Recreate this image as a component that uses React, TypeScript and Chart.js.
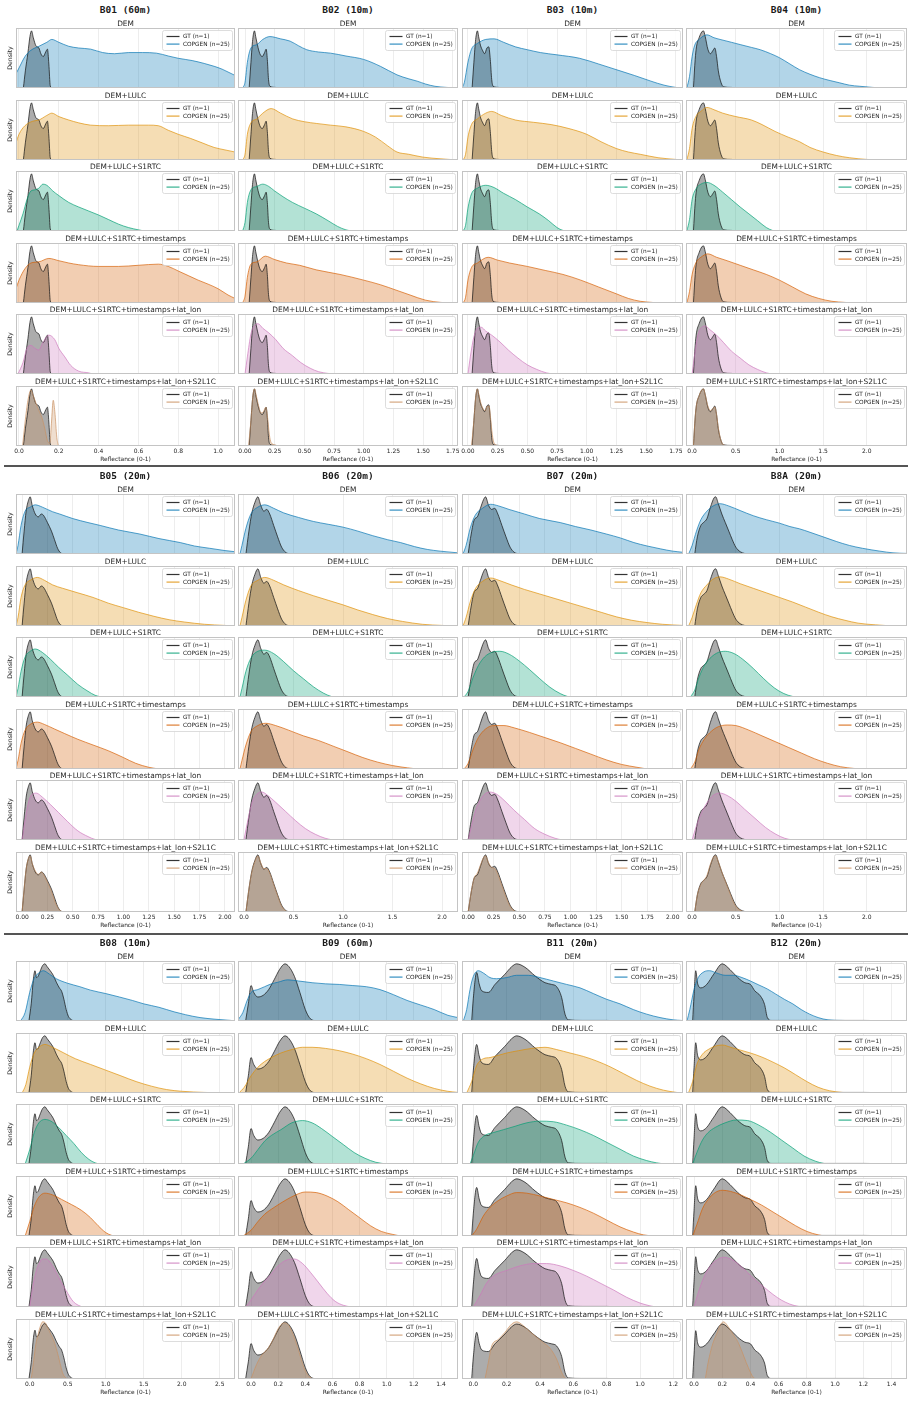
import React, { useEffect, useRef } from "react";
import { Chart, registerables } from "chart.js";

Chart.register(...registerables);

type Pt = [number, number];

// ---------------- data ----------------
const BANDS = ["B01 (60m)", "B02 (10m)", "B03 (10m)", "B04 (10m)", "B05 (20m)", "B06 (20m)", "B07 (20m)", "B8A (20m)", "B08 (10m)", "B09 (60m)", "B11 (20m)", "B12 (20m)"];
const CONDITIONS = ["DEM", "DEM+LULC", "DEM+LULC+S1RTC", "DEM+LULC+S1RTC+timestamps", "DEM+LULC+S1RTC+timestamps+lat_lon", "DEM+LULC+S1RTC+timestamps+lat_lon+S2L1C"];
const SERIES_LABELS = ["GT (n=1)", "COPGEN (n=25)"];
const Y_LABEL = "Density";
const X_LABEL = "Reflectance (0-1)";

const X_MIN = [-0.015, -0.059, -0.05, -0.07, -0.06, -0.06, -0.06, -0.07, -0.18, -0.096, -0.068, -0.057];
const X_MAX = [1.085, 1.794, 1.81, 2.46, 2.1, 2.16, 2.1, 2.46, 2.7, 1.525, 1.258, 1.51];
const X_TICKS = [
  [0, 0.2, 0.4, 0.6, 0.8, 1.0],
  [0, 0.25, 0.5, 0.75, 1.0, 1.25, 1.5, 1.75],
  [0, 0.25, 0.5, 0.75, 1.0, 1.25, 1.5, 1.75],
  [0, 0.5, 1.0, 1.5, 2.0],
  [0, 0.25, 0.5, 0.75, 1.0, 1.25, 1.5, 1.75, 2.0],
  [0, 0.5, 1.0, 1.5, 2.0],
  [0, 0.25, 0.5, 0.75, 1.0, 1.25, 1.5, 1.75, 2.0],
  [0, 0.5, 1.0, 1.5, 2.0],
  [0, 0.5, 1.0, 1.5, 2.0, 2.5],
  [0, 0.2, 0.4, 0.6, 0.8, 1.0, 1.2, 1.4],
  [0, 0.2, 0.4, 0.6, 0.8, 1.0, 1.2],
  [0, 0.2, 0.4, 0.6, 0.8, 1.0, 1.2, 1.4],
];
const TICK_DECIMALS = [1, 2, 2, 1, 2, 1, 2, 1, 1, 1, 1, 1];

const B01_GT: Pt[] = [[0.022, 0], [0.032, 0.3], [0.045, 0.62], [0.055, 0.9], [0.063, 1], [0.072, 0.88], [0.085, 0.74], [0.1, 0.7], [0.11, 0.6], [0.122, 0.55], [0.134, 0.63], [0.143, 0.68], [0.15, 0.42], [0.157, 0.04], [0.165, 0]];
const B01_COPGEN: Pt[][] = [
  [[-0.015, 0.25], [0, 0.35], [0.03, 0.55], [0.06, 0.66], [0.1, 0.73], [0.14, 0.8], [0.165, 0.85], [0.2, 0.8], [0.25, 0.73], [0.3, 0.7], [0.36, 0.68], [0.42, 0.62], [0.48, 0.6], [0.55, 0.62], [0.62, 0.62], [0.69, 0.61], [0.75, 0.56], [0.8, 0.52], [0.87, 0.48], [0.93, 0.43], [0.98, 0.38], [1.02, 0.33], [1.05, 0.28], [1.085, 0.22]],
  [[-0.015, 0.3], [0, 0.45], [0.03, 0.6], [0.07, 0.68], [0.1, 0.7], [0.14, 0.78], [0.165, 0.82], [0.2, 0.76], [0.25, 0.7], [0.3, 0.65], [0.36, 0.61], [0.45, 0.6], [0.55, 0.61], [0.65, 0.61], [0.7, 0.6], [0.75, 0.52], [0.8, 0.45], [0.86, 0.38], [0.92, 0.3], [0.98, 0.22], [1.03, 0.18], [1.085, 0.14]],
  [[-0.01, 0], [0, 0.1], [0.02, 0.3], [0.04, 0.55], [0.06, 0.7], [0.08, 0.72], [0.1, 0.75], [0.12, 0.82], [0.14, 0.8], [0.17, 0.7], [0.2, 0.62], [0.25, 0.5], [0.3, 0.42], [0.35, 0.35], [0.4, 0.28], [0.45, 0.2], [0.5, 0.12], [0.55, 0.06], [0.6, 0.02], [0.63, 0]],
  [[-0.015, 0.25], [0, 0.4], [0.03, 0.6], [0.06, 0.7], [0.1, 0.72], [0.15, 0.78], [0.2, 0.74], [0.25, 0.7], [0.3, 0.67], [0.4, 0.64], [0.5, 0.64], [0.6, 0.66], [0.7, 0.68], [0.75, 0.64], [0.8, 0.56], [0.85, 0.48], [0.9, 0.4], [0.95, 0.33], [1, 0.25], [1.05, 0.14], [1.085, 0.08]],
  [[-0.005, 0], [0.02, 0.2], [0.04, 0.45], [0.06, 0.5], [0.08, 0.45], [0.1, 0.42], [0.12, 0.55], [0.15, 0.68], [0.18, 0.6], [0.2, 0.45], [0.23, 0.3], [0.26, 0.15], [0.3, 0.05], [0.35, 0.02], [0.37, 0]],
  [[0.018, 0], [0.03, 0.4], [0.045, 0.8], [0.06, 0.98], [0.07, 0.9], [0.085, 0.75], [0.1, 0.62], [0.115, 0.5], [0.13, 0.3], [0.142, 0.1], [0.155, 0.05], [0.163, 0.4], [0.172, 0.8], [0.18, 0.6], [0.19, 0.15], [0.198, 0]],
];

const B02_GT: Pt[] = [[0.035, 0], [0.05, 0.45], [0.065, 0.85], [0.08, 1], [0.09, 0.9], [0.105, 0.75], [0.125, 0.6], [0.145, 0.55], [0.165, 0.62], [0.178, 0.68], [0.188, 0.5], [0.198, 0.15], [0.21, 0.03], [0.26, 0.01], [0.29, 0]];
const B02_COPGEN: Pt[][] = [
  [[-0.02, 0], [0, 0.1], [0.02, 0.45], [0.05, 0.7], [0.1, 0.76], [0.15, 0.85], [0.21, 0.9], [0.3, 0.86], [0.38, 0.82], [0.45, 0.74], [0.52, 0.67], [0.62, 0.63], [0.72, 0.61], [0.85, 0.56], [1, 0.5], [1.14, 0.38], [1.28, 0.23], [1.38, 0.16], [1.45, 0.12], [1.52, 0.07], [1.6, 0.03], [1.7, 0.01], [1.79, 0]],
  [[-0.02, 0], [0, 0.1], [0.02, 0.45], [0.05, 0.65], [0.1, 0.72], [0.15, 0.82], [0.22, 0.9], [0.3, 0.82], [0.4, 0.72], [0.5, 0.67], [0.6, 0.64], [0.72, 0.61], [0.85, 0.58], [1, 0.5], [1.1, 0.4], [1.2, 0.25], [1.28, 0.14], [1.38, 0.1], [1.5, 0.05], [1.65, 0.02], [1.79, 0]],
  [[-0.02, 0], [0, 0.15], [0.02, 0.5], [0.05, 0.72], [0.1, 0.78], [0.15, 0.82], [0.2, 0.78], [0.25, 0.7], [0.32, 0.6], [0.4, 0.5], [0.5, 0.4], [0.6, 0.3], [0.7, 0.18], [0.78, 0.08], [0.85, 0.02], [0.9, 0]],
  [[-0.02, 0], [0, 0.12], [0.02, 0.45], [0.05, 0.68], [0.1, 0.72], [0.17, 0.82], [0.25, 0.76], [0.35, 0.7], [0.46, 0.66], [0.6, 0.58], [0.8, 0.5], [1, 0.4], [1.14, 0.32], [1.28, 0.22], [1.39, 0.14], [1.52, 0.05], [1.65, 0.01], [1.79, 0]],
  [[0, 0], [0.02, 0.3], [0.05, 0.7], [0.08, 0.85], [0.11, 0.88], [0.15, 0.8], [0.2, 0.72], [0.26, 0.6], [0.32, 0.45], [0.4, 0.32], [0.47, 0.2], [0.55, 0.1], [0.62, 0.04], [0.7, 0.01], [0.75, 0]],
  [[0.03, 0], [0.05, 0.45], [0.065, 0.85], [0.08, 1], [0.095, 0.88], [0.115, 0.7], [0.135, 0.58], [0.155, 0.6], [0.175, 0.68], [0.19, 0.5], [0.205, 0.2], [0.22, 0.06], [0.25, 0.02], [0.28, 0]],
];

const B03_GT: Pt[] = [[0.035, 0], [0.05, 0.45], [0.065, 0.85], [0.08, 1], [0.09, 0.9], [0.105, 0.75], [0.125, 0.65], [0.14, 0.6], [0.16, 0.7], [0.175, 0.72], [0.188, 0.5], [0.2, 0.15], [0.212, 0.03], [0.26, 0.01], [0.29, 0]];
const B03_COPGEN: Pt[][] = [
  [[-0.05, 0], [-0.03, 0.1], [0, 0.45], [0.03, 0.68], [0.08, 0.78], [0.15, 0.85], [0.22, 0.86], [0.3, 0.8], [0.4, 0.72], [0.5, 0.67], [0.61, 0.62], [0.75, 0.58], [0.94, 0.52], [1.1, 0.42], [1.28, 0.3], [1.4, 0.22], [1.54, 0.12], [1.65, 0.05], [1.75, 0.01], [1.8, 0]],
  [[-0.04, 0], [-0.02, 0.1], [0, 0.4], [0.03, 0.62], [0.08, 0.72], [0.15, 0.82], [0.2, 0.85], [0.28, 0.78], [0.4, 0.7], [0.55, 0.66], [0.7, 0.62], [0.85, 0.55], [1, 0.45], [1.12, 0.32], [1.25, 0.2], [1.35, 0.14], [1.45, 0.1], [1.6, 0.04], [1.75, 0.01], [1.8, 0]],
  [[-0.04, 0], [-0.02, 0.1], [0, 0.4], [0.03, 0.65], [0.08, 0.75], [0.15, 0.8], [0.22, 0.76], [0.3, 0.66], [0.4, 0.55], [0.5, 0.42], [0.6, 0.3], [0.68, 0.18], [0.75, 0.06], [0.8, 0.01], [0.85, 0]],
  [[-0.04, 0], [-0.02, 0.1], [0, 0.4], [0.03, 0.62], [0.08, 0.7], [0.17, 0.8], [0.25, 0.75], [0.35, 0.7], [0.5, 0.64], [0.65, 0.57], [0.8, 0.5], [0.95, 0.4], [1.1, 0.28], [1.25, 0.16], [1.35, 0.08], [1.45, 0.03], [1.55, 0.01], [1.6, 0]],
  [[0, 0], [0.02, 0.3], [0.05, 0.65], [0.08, 0.8], [0.11, 0.82], [0.15, 0.75], [0.2, 0.68], [0.27, 0.56], [0.34, 0.42], [0.42, 0.28], [0.5, 0.16], [0.58, 0.08], [0.66, 0.02], [0.72, 0]],
  [[0.03, 0], [0.05, 0.45], [0.065, 0.85], [0.08, 1], [0.09, 0.92], [0.105, 0.78], [0.125, 0.66], [0.145, 0.62], [0.165, 0.7], [0.178, 0.7], [0.19, 0.5], [0.205, 0.2], [0.22, 0.05], [0.25, 0.01], [0.28, 0]],
];

const B04_GT: Pt[] = [[0.015, 0], [0.035, 0.5], [0.05, 0.72], [0.08, 0.88], [0.11, 0.98], [0.13, 1], [0.15, 0.9], [0.18, 0.68], [0.21, 0.6], [0.24, 0.66], [0.26, 0.7], [0.28, 0.55], [0.3, 0.3], [0.33, 0.1], [0.36, 0.02], [0.45, 0.01], [0.52, 0]];
const B04_COPGEN: Pt[][] = [
  [[-0.06, 0], [-0.03, 0.2], [0, 0.55], [0.03, 0.75], [0.08, 0.85], [0.17, 0.93], [0.25, 0.88], [0.32, 0.85], [0.45, 0.8], [0.55, 0.76], [0.68, 0.71], [0.78, 0.67], [0.9, 0.6], [1, 0.53], [1.12, 0.42], [1.23, 0.32], [1.35, 0.24], [1.46, 0.18], [1.58, 0.13], [1.69, 0.09], [1.8, 0.05], [1.92, 0.03], [2.07, 0.01], [2.2, 0]],
  [[-0.06, 0], [-0.03, 0.2], [0, 0.55], [0.05, 0.78], [0.1, 0.85], [0.17, 0.92], [0.25, 0.88], [0.35, 0.82], [0.5, 0.76], [0.68, 0.7], [0.8, 0.62], [0.95, 0.5], [1.1, 0.4], [1.23, 0.32], [1.35, 0.22], [1.5, 0.14], [1.65, 0.08], [1.8, 0.04], [2, 0.01], [2.2, 0]],
  [[-0.06, 0], [-0.03, 0.2], [0, 0.55], [0.05, 0.75], [0.1, 0.82], [0.17, 0.85], [0.25, 0.8], [0.35, 0.68], [0.45, 0.55], [0.55, 0.42], [0.65, 0.3], [0.75, 0.18], [0.85, 0.06], [0.92, 0.01], [0.95, 0]],
  [[-0.06, 0], [-0.03, 0.2], [0, 0.5], [0.05, 0.72], [0.1, 0.8], [0.18, 0.86], [0.28, 0.8], [0.4, 0.74], [0.55, 0.66], [0.7, 0.58], [0.85, 0.5], [1, 0.4], [1.15, 0.28], [1.3, 0.16], [1.45, 0.08], [1.6, 0.03], [1.75, 0.01], [1.85, 0]],
  [[0, 0], [0.03, 0.35], [0.07, 0.7], [0.11, 0.82], [0.15, 0.84], [0.2, 0.78], [0.28, 0.68], [0.36, 0.55], [0.45, 0.4], [0.55, 0.28], [0.65, 0.16], [0.75, 0.08], [0.85, 0.02], [0.92, 0]],
  [[0.015, 0], [0.035, 0.5], [0.05, 0.72], [0.08, 0.88], [0.11, 0.98], [0.13, 1], [0.15, 0.9], [0.18, 0.7], [0.21, 0.62], [0.24, 0.66], [0.26, 0.68], [0.28, 0.55], [0.3, 0.32], [0.33, 0.1], [0.36, 0.02], [0.42, 0]],
];

const B05_GT: Pt[] = [[0, 0], [0.02, 0.4], [0.04, 0.75], [0.065, 0.95], [0.08, 1], [0.1, 0.85], [0.13, 0.7], [0.16, 0.65], [0.19, 0.7], [0.21, 0.68], [0.25, 0.55], [0.29, 0.4], [0.32, 0.25], [0.35, 0.1], [0.38, 0.02], [0.42, 0]];
const B05_COPGEN: Pt[][] = [
  [[-0.06, 0], [-0.04, 0.15], [-0.01, 0.5], [0.03, 0.75], [0.08, 0.82], [0.13, 0.86], [0.2, 0.82], [0.3, 0.74], [0.37, 0.7], [0.5, 0.62], [0.65, 0.55], [0.77, 0.5], [0.95, 0.42], [1.16, 0.35], [1.35, 0.27], [1.56, 0.2], [1.7, 0.14], [1.85, 0.1], [2, 0.06], [2.1, 0.04]],
  [[-0.06, 0], [-0.04, 0.15], [-0.01, 0.5], [0.03, 0.72], [0.08, 0.8], [0.15, 0.85], [0.22, 0.8], [0.3, 0.72], [0.4, 0.66], [0.55, 0.58], [0.7, 0.5], [0.85, 0.4], [1, 0.32], [1.15, 0.24], [1.3, 0.17], [1.45, 0.11], [1.6, 0.07], [1.8, 0.03], [2, 0.01], [2.1, 0]],
  [[-0.06, 0], [-0.04, 0.15], [-0.01, 0.45], [0.03, 0.7], [0.08, 0.8], [0.13, 0.84], [0.2, 0.78], [0.28, 0.66], [0.36, 0.52], [0.45, 0.38], [0.55, 0.22], [0.65, 0.1], [0.72, 0.03], [0.78, 0]],
  [[-0.06, 0], [-0.04, 0.15], [-0.01, 0.45], [0.03, 0.68], [0.08, 0.78], [0.15, 0.82], [0.22, 0.78], [0.32, 0.7], [0.42, 0.62], [0.55, 0.52], [0.7, 0.42], [0.85, 0.32], [1, 0.2], [1.12, 0.1], [1.25, 0.03], [1.35, 0]],
  [[0, 0], [0.03, 0.35], [0.07, 0.7], [0.1, 0.8], [0.14, 0.82], [0.2, 0.75], [0.28, 0.62], [0.36, 0.48], [0.45, 0.32], [0.55, 0.16], [0.65, 0.06], [0.72, 0.01], [0.78, 0]],
  [[0, 0], [0.02, 0.4], [0.04, 0.75], [0.065, 0.95], [0.08, 0.98], [0.1, 0.85], [0.13, 0.72], [0.16, 0.66], [0.19, 0.7], [0.21, 0.66], [0.25, 0.52], [0.29, 0.36], [0.32, 0.2], [0.35, 0.08], [0.38, 0.02], [0.42, 0]],
];

const B06_GT: Pt[] = [[0.02, 0], [0.05, 0.4], [0.08, 0.72], [0.11, 0.9], [0.14, 1], [0.17, 0.85], [0.2, 0.75], [0.23, 0.78], [0.26, 0.7], [0.3, 0.5], [0.34, 0.3], [0.38, 0.12], [0.42, 0.03], [0.46, 0]];
const B06_COPGEN: Pt[][] = [
  [[-0.04, 0], [-0.02, 0.15], [0.02, 0.45], [0.07, 0.7], [0.14, 0.82], [0.21, 0.86], [0.3, 0.8], [0.4, 0.72], [0.55, 0.64], [0.7, 0.57], [0.85, 0.52], [1, 0.47], [1.15, 0.4], [1.3, 0.32], [1.45, 0.25], [1.58, 0.2], [1.72, 0.13], [1.85, 0.08], [1.98, 0.05], [2.16, 0.02]],
  [[-0.04, 0], [-0.02, 0.15], [0.02, 0.45], [0.07, 0.7], [0.14, 0.8], [0.21, 0.85], [0.3, 0.8], [0.4, 0.72], [0.55, 0.62], [0.7, 0.53], [0.85, 0.45], [1, 0.37], [1.15, 0.28], [1.3, 0.2], [1.45, 0.13], [1.6, 0.08], [1.8, 0.03], [2, 0.01], [2.16, 0]],
  [[-0.04, 0], [-0.02, 0.15], [0.02, 0.45], [0.07, 0.68], [0.14, 0.8], [0.21, 0.82], [0.3, 0.76], [0.4, 0.62], [0.5, 0.46], [0.6, 0.32], [0.7, 0.18], [0.8, 0.07], [0.88, 0.01], [0.92, 0]],
  [[-0.04, 0], [-0.02, 0.15], [0.02, 0.42], [0.07, 0.65], [0.14, 0.76], [0.22, 0.8], [0.32, 0.76], [0.45, 0.68], [0.6, 0.58], [0.75, 0.5], [0.9, 0.4], [1.05, 0.3], [1.2, 0.2], [1.35, 0.12], [1.5, 0.06], [1.65, 0.02], [1.75, 0]],
  [[0, 0], [0.04, 0.35], [0.08, 0.65], [0.13, 0.8], [0.18, 0.84], [0.24, 0.78], [0.32, 0.66], [0.42, 0.5], [0.52, 0.34], [0.62, 0.2], [0.72, 0.1], [0.82, 0.03], [0.9, 0]],
  [[0.02, 0], [0.05, 0.4], [0.08, 0.7], [0.11, 0.88], [0.14, 0.98], [0.17, 0.86], [0.2, 0.76], [0.23, 0.76], [0.26, 0.68], [0.3, 0.48], [0.34, 0.28], [0.38, 0.1], [0.42, 0.02], [0.46, 0]],
];

const B07_GT: Pt[] = [[0, 0], [0.03, 0.35], [0.06, 0.6], [0.09, 0.65], [0.12, 0.8], [0.15, 0.95], [0.17, 1], [0.2, 0.85], [0.23, 0.78], [0.26, 0.8], [0.29, 0.7], [0.33, 0.5], [0.37, 0.3], [0.41, 0.12], [0.45, 0.03], [0.5, 0]];
const B07_COPGEN: Pt[][] = [
  [[-0.05, 0], [-0.02, 0.15], [0.02, 0.45], [0.07, 0.68], [0.14, 0.8], [0.22, 0.87], [0.3, 0.84], [0.4, 0.78], [0.55, 0.7], [0.7, 0.62], [0.9, 0.55], [1.05, 0.48], [1.2, 0.42], [1.35, 0.35], [1.49, 0.28], [1.62, 0.2], [1.75, 0.14], [1.88, 0.09], [2, 0.05], [2.1, 0.03]],
  [[-0.05, 0], [-0.02, 0.15], [0.02, 0.42], [0.07, 0.65], [0.14, 0.78], [0.22, 0.84], [0.3, 0.8], [0.42, 0.72], [0.55, 0.64], [0.7, 0.56], [0.85, 0.48], [1, 0.4], [1.15, 0.32], [1.3, 0.24], [1.45, 0.16], [1.6, 0.1], [1.75, 0.06], [1.9, 0.03], [2.1, 0.01]],
  [[-0.04, 0], [0, 0.1], [0.05, 0.35], [0.1, 0.55], [0.16, 0.7], [0.23, 0.78], [0.31, 0.8], [0.4, 0.75], [0.5, 0.63], [0.6, 0.48], [0.7, 0.32], [0.8, 0.17], [0.9, 0.06], [0.97, 0.01], [1, 0]],
  [[-0.04, 0], [0, 0.1], [0.05, 0.35], [0.1, 0.55], [0.17, 0.7], [0.25, 0.76], [0.35, 0.76], [0.45, 0.72], [0.6, 0.64], [0.75, 0.55], [0.9, 0.46], [1.05, 0.36], [1.2, 0.26], [1.35, 0.16], [1.5, 0.08], [1.65, 0.03], [1.75, 0]],
  [[0, 0], [0.04, 0.3], [0.09, 0.6], [0.15, 0.78], [0.21, 0.84], [0.28, 0.8], [0.36, 0.68], [0.45, 0.52], [0.55, 0.36], [0.65, 0.2], [0.75, 0.1], [0.85, 0.03], [0.92, 0]],
  [[0, 0], [0.03, 0.35], [0.06, 0.6], [0.09, 0.68], [0.12, 0.82], [0.15, 0.95], [0.17, 0.98], [0.2, 0.86], [0.23, 0.78], [0.26, 0.76], [0.29, 0.66], [0.33, 0.46], [0.37, 0.26], [0.41, 0.1], [0.45, 0.02], [0.5, 0]],
];

const B8A_GT: Pt[] = [[0.03, 0], [0.06, 0.3], [0.1, 0.5], [0.13, 0.55], [0.17, 0.62], [0.21, 0.82], [0.25, 0.98], [0.27, 1], [0.3, 0.88], [0.34, 0.7], [0.38, 0.55], [0.42, 0.4], [0.46, 0.25], [0.5, 0.12], [0.55, 0.04], [0.6, 0.01], [0.65, 0]];
const B8A_COPGEN: Pt[][] = [
  [[-0.04, 0], [0, 0.15], [0.05, 0.4], [0.1, 0.6], [0.17, 0.75], [0.24, 0.84], [0.32, 0.88], [0.42, 0.84], [0.55, 0.76], [0.7, 0.67], [0.85, 0.6], [1, 0.54], [1.12, 0.48], [1.23, 0.44], [1.35, 0.38], [1.5, 0.3], [1.65, 0.22], [1.8, 0.15], [1.95, 0.1], [2.15, 0.05], [2.3, 0.02], [2.46, 0.01]],
  [[-0.04, 0], [0, 0.15], [0.05, 0.38], [0.1, 0.58], [0.17, 0.72], [0.24, 0.82], [0.32, 0.86], [0.42, 0.82], [0.55, 0.74], [0.7, 0.66], [0.85, 0.58], [1, 0.5], [1.15, 0.42], [1.3, 0.33], [1.45, 0.24], [1.6, 0.16], [1.75, 0.1], [1.9, 0.05], [2.1, 0.02], [2.3, 0]],
  [[-0.02, 0], [0.03, 0.12], [0.08, 0.35], [0.14, 0.55], [0.22, 0.7], [0.3, 0.78], [0.38, 0.8], [0.48, 0.76], [0.58, 0.66], [0.7, 0.5], [0.82, 0.32], [0.94, 0.16], [1.05, 0.06], [1.15, 0.01], [1.2, 0]],
  [[-0.02, 0], [0.03, 0.12], [0.08, 0.35], [0.14, 0.52], [0.22, 0.66], [0.3, 0.74], [0.4, 0.77], [0.5, 0.76], [0.65, 0.68], [0.8, 0.58], [0.95, 0.48], [1.1, 0.38], [1.25, 0.28], [1.4, 0.18], [1.55, 0.1], [1.7, 0.04], [1.85, 0.01], [1.95, 0]],
  [[0, 0], [0.05, 0.25], [0.1, 0.45], [0.17, 0.65], [0.24, 0.78], [0.32, 0.82], [0.4, 0.78], [0.5, 0.68], [0.6, 0.54], [0.72, 0.38], [0.84, 0.22], [0.96, 0.1], [1.06, 0.03], [1.15, 0]],
  [[0.03, 0], [0.06, 0.3], [0.1, 0.48], [0.13, 0.55], [0.17, 0.64], [0.21, 0.84], [0.25, 0.97], [0.27, 0.98], [0.3, 0.88], [0.34, 0.7], [0.38, 0.54], [0.42, 0.38], [0.46, 0.22], [0.5, 0.1], [0.55, 0.03], [0.6, 0]],
];

const B08_GT: Pt[] = [[-0.01, 0], [0.02, 0.3], [0.05, 0.75], [0.07, 0.88], [0.09, 0.76], [0.11, 0.78], [0.14, 0.88], [0.17, 0.97], [0.2, 1], [0.23, 0.95], [0.27, 0.88], [0.31, 0.8], [0.35, 0.68], [0.39, 0.58], [0.42, 0.52], [0.45, 0.38], [0.48, 0.2], [0.51, 0.08], [0.55, 0.02], [0.6, 0]];
const B08_COPGEN: Pt[][] = [
  [[-0.12, 0], [-0.06, 0.15], [0, 0.5], [0.06, 0.75], [0.12, 0.84], [0.18, 0.88], [0.26, 0.82], [0.35, 0.74], [0.5, 0.66], [0.66, 0.6], [0.8, 0.54], [1, 0.48], [1.18, 0.42], [1.35, 0.36], [1.5, 0.3], [1.7, 0.24], [1.9, 0.16], [2.05, 0.11], [2.24, 0.06], [2.45, 0.03], [2.65, 0.01]],
  [[-0.1, 0], [-0.05, 0.15], [0, 0.45], [0.06, 0.7], [0.12, 0.8], [0.2, 0.85], [0.3, 0.8], [0.45, 0.7], [0.6, 0.6], [0.8, 0.5], [1, 0.4], [1.2, 0.3], [1.4, 0.2], [1.6, 0.12], [1.8, 0.06], [2, 0.03], [2.3, 0.01], [2.6, 0]],
  [[-0.06, 0], [0, 0.25], [0.06, 0.55], [0.12, 0.72], [0.2, 0.78], [0.28, 0.75], [0.38, 0.64], [0.48, 0.5], [0.58, 0.36], [0.68, 0.2], [0.78, 0.08], [0.86, 0.02], [0.92, 0]],
  [[-0.06, 0], [0, 0.25], [0.06, 0.52], [0.12, 0.68], [0.2, 0.75], [0.3, 0.72], [0.42, 0.64], [0.55, 0.55], [0.68, 0.45], [0.8, 0.32], [0.9, 0.18], [1, 0.06], [1.08, 0.01], [1.12, 0]],
  [[0, 0], [0.04, 0.35], [0.08, 0.6], [0.12, 0.75], [0.17, 0.84], [0.22, 0.84], [0.28, 0.76], [0.35, 0.6], [0.42, 0.42], [0.5, 0.24], [0.57, 0.1], [0.64, 0.03], [0.7, 0]],
  [[0.02, 0], [0.05, 0.3], [0.08, 0.62], [0.11, 0.8], [0.14, 0.95], [0.17, 1.03], [0.2, 1.02], [0.24, 0.92], [0.28, 0.8], [0.32, 0.68], [0.36, 0.5], [0.4, 0.28], [0.43, 0.12], [0.46, 0.04], [0.5, 0]],
];

const B09_GT: Pt[] = [[-0.04, 0], [-0.02, 0.3], [0, 0.62], [0.02, 0.5], [0.05, 0.42], [0.09, 0.45], [0.13, 0.55], [0.17, 0.72], [0.21, 0.9], [0.25, 1], [0.28, 0.95], [0.32, 0.78], [0.36, 0.5], [0.4, 0.2], [0.43, 0.06], [0.46, 0.01], [0.5, 0]];
const B09_COPGEN: Pt[][] = [
  [[-0.096, 0.02], [-0.06, 0.15], [-0.03, 0.35], [0, 0.5], [0.05, 0.55], [0.1, 0.6], [0.15, 0.65], [0.2, 0.68], [0.27, 0.72], [0.35, 0.7], [0.45, 0.67], [0.55, 0.65], [0.65, 0.64], [0.75, 0.62], [0.85, 0.6], [0.95, 0.55], [1.05, 0.46], [1.15, 0.36], [1.25, 0.28], [1.35, 0.2], [1.45, 0.1], [1.525, 0.06]],
  [[-0.09, 0], [-0.05, 0.1], [0, 0.3], [0.05, 0.45], [0.1, 0.55], [0.15, 0.62], [0.22, 0.7], [0.3, 0.76], [0.38, 0.8], [0.45, 0.8], [0.55, 0.78], [0.65, 0.74], [0.75, 0.68], [0.85, 0.6], [0.95, 0.5], [1.05, 0.38], [1.15, 0.26], [1.25, 0.16], [1.35, 0.08], [1.45, 0.03], [1.525, 0.01]],
  [[-0.06, 0], [0, 0.1], [0.05, 0.25], [0.1, 0.4], [0.15, 0.5], [0.22, 0.6], [0.3, 0.72], [0.38, 0.76], [0.45, 0.72], [0.52, 0.62], [0.6, 0.48], [0.68, 0.34], [0.76, 0.2], [0.84, 0.1], [0.92, 0.03], [1, 0]],
  [[-0.06, 0], [0, 0.1], [0.05, 0.25], [0.1, 0.38], [0.17, 0.5], [0.25, 0.62], [0.33, 0.72], [0.4, 0.77], [0.48, 0.76], [0.56, 0.7], [0.64, 0.6], [0.72, 0.46], [0.8, 0.32], [0.88, 0.18], [0.96, 0.08], [1.04, 0.03], [1.1, 0]],
  [[-0.04, 0], [0, 0.12], [0.05, 0.3], [0.1, 0.45], [0.15, 0.58], [0.2, 0.72], [0.26, 0.82], [0.32, 0.84], [0.38, 0.76], [0.44, 0.6], [0.5, 0.42], [0.56, 0.24], [0.62, 0.1], [0.68, 0.03], [0.74, 0]],
  [[0, 0], [0.04, 0.25], [0.08, 0.42], [0.12, 0.52], [0.16, 0.68], [0.2, 0.88], [0.24, 0.98], [0.27, 0.96], [0.31, 0.78], [0.35, 0.5], [0.39, 0.2], [0.42, 0.06], [0.45, 0.01], [0.48, 0]],
];

const B11_GT: Pt[] = [[-0.01, 0], [0, 0.4], [0.02, 0.85], [0.035, 0.65], [0.05, 0.53], [0.09, 0.5], [0.13, 0.64], [0.19, 0.82], [0.23, 0.95], [0.26, 1], [0.31, 0.94], [0.37, 0.79], [0.43, 0.67], [0.47, 0.64], [0.5, 0.6], [0.53, 0.41], [0.55, 0.12], [0.57, 0.02], [0.65, 0.01], [0.8, 0.01], [0.9, 0]];
const B11_COPGEN: Pt[][] = [
  [[-0.06, 0], [-0.04, 0.2], [-0.02, 0.55], [0, 0.78], [0.03, 0.88], [0.06, 0.84], [0.1, 0.76], [0.14, 0.74], [0.2, 0.76], [0.26, 0.8], [0.33, 0.8], [0.4, 0.76], [0.48, 0.7], [0.56, 0.64], [0.64, 0.58], [0.72, 0.48], [0.8, 0.38], [0.88, 0.3], [0.96, 0.2], [1.04, 0.12], [1.12, 0.06], [1.2, 0.02], [1.25, 0.01]],
  [[-0.04, 0], [-0.01, 0.2], [0.02, 0.48], [0.06, 0.6], [0.1, 0.62], [0.15, 0.66], [0.2, 0.7], [0.27, 0.74], [0.35, 0.78], [0.43, 0.8], [0.5, 0.76], [0.58, 0.7], [0.66, 0.64], [0.74, 0.56], [0.82, 0.46], [0.9, 0.34], [0.98, 0.22], [1.06, 0.12], [1.14, 0.05], [1.22, 0.01], [1.26, 0]],
  [[-0.02, 0], [0, 0.15], [0.03, 0.38], [0.07, 0.5], [0.12, 0.55], [0.18, 0.6], [0.25, 0.66], [0.32, 0.72], [0.4, 0.75], [0.48, 0.74], [0.56, 0.68], [0.64, 0.6], [0.72, 0.5], [0.8, 0.38], [0.88, 0.26], [0.96, 0.14], [1.04, 0.06], [1.1, 0.02], [1.15, 0]],
  [[-0.01, 0], [0.02, 0.12], [0.06, 0.35], [0.1, 0.5], [0.15, 0.62], [0.2, 0.7], [0.26, 0.76], [0.32, 0.75], [0.4, 0.7], [0.48, 0.64], [0.56, 0.58], [0.64, 0.5], [0.72, 0.4], [0.8, 0.28], [0.88, 0.16], [0.96, 0.07], [1.02, 0.02], [1.08, 0]],
  [[0, 0], [0.04, 0.2], [0.08, 0.42], [0.13, 0.56], [0.2, 0.64], [0.28, 0.72], [0.36, 0.76], [0.44, 0.76], [0.52, 0.72], [0.6, 0.64], [0.68, 0.54], [0.76, 0.42], [0.84, 0.3], [0.92, 0.17], [1, 0.07], [1.06, 0.02], [1.1, 0]],
  [[0.07, 0], [0.09, 0.3], [0.11, 0.6], [0.15, 0.72], [0.19, 0.85], [0.23, 1], [0.26, 1.04], [0.3, 0.97], [0.34, 0.86], [0.38, 0.76], [0.42, 0.66], [0.46, 0.56], [0.5, 0.36], [0.53, 0.12], [0.55, 0.02], [0.57, 0]],
];

const B12_GT: Pt[] = [[-0.01, 0], [0, 0.45], [0.012, 0.88], [0.025, 0.66], [0.05, 0.58], [0.09, 0.64], [0.14, 0.82], [0.2, 1], [0.255, 0.9], [0.31, 0.76], [0.36, 0.67], [0.4, 0.64], [0.43, 0.53], [0.47, 0.44], [0.5, 0.29], [0.52, 0.06], [0.55, 0.01], [0.8, 0.01], [1.2, 0.01], [1.5, 0]];
const B12_COPGEN: Pt[][] = [
  [[-0.05, 0], [-0.03, 0.2], [0, 0.55], [0.03, 0.76], [0.07, 0.86], [0.11, 0.88], [0.16, 0.84], [0.22, 0.8], [0.28, 0.8], [0.34, 0.76], [0.4, 0.7], [0.46, 0.63], [0.52, 0.56], [0.58, 0.47], [0.64, 0.38], [0.7, 0.3], [0.76, 0.2], [0.82, 0.12], [0.88, 0.06], [0.95, 0.02], [1.05, 0.01], [1.2, 0]],
  [[-0.04, 0], [-0.01, 0.2], [0.02, 0.5], [0.06, 0.68], [0.1, 0.76], [0.15, 0.82], [0.2, 0.84], [0.26, 0.8], [0.33, 0.75], [0.4, 0.7], [0.48, 0.63], [0.56, 0.54], [0.64, 0.44], [0.72, 0.32], [0.8, 0.2], [0.88, 0.1], [0.96, 0.04], [1.05, 0.01], [1.15, 0]],
  [[-0.01, 0], [0.02, 0.2], [0.06, 0.42], [0.1, 0.55], [0.15, 0.64], [0.22, 0.72], [0.3, 0.77], [0.38, 0.76], [0.46, 0.68], [0.54, 0.56], [0.62, 0.42], [0.7, 0.28], [0.78, 0.14], [0.86, 0.05], [0.92, 0.01], [0.96, 0]],
  [[-0.01, 0], [0.02, 0.2], [0.06, 0.48], [0.1, 0.64], [0.15, 0.76], [0.2, 0.8], [0.26, 0.78], [0.33, 0.72], [0.4, 0.64], [0.48, 0.54], [0.56, 0.42], [0.64, 0.3], [0.72, 0.18], [0.8, 0.08], [0.88, 0.02], [0.93, 0]],
  [[0, 0], [0.03, 0.25], [0.07, 0.52], [0.11, 0.7], [0.16, 0.82], [0.21, 0.87], [0.26, 0.84], [0.32, 0.74], [0.38, 0.6], [0.44, 0.46], [0.5, 0.34], [0.56, 0.22], [0.62, 0.12], [0.68, 0.05], [0.74, 0.01], [0.78, 0]],
  [[0.08, 0], [0.1, 0.3], [0.13, 0.62], [0.16, 0.82], [0.19, 1], [0.21, 1.04], [0.24, 0.96], [0.28, 0.8], [0.31, 0.68], [0.34, 0.5], [0.37, 0.3], [0.4, 0.12], [0.42, 0.03], [0.44, 0]],
];

const GT_SERIES = [B01_GT, B02_GT, B03_GT, B04_GT, B05_GT, B06_GT, B07_GT, B8A_GT, B08_GT, B09_GT, B11_GT, B12_GT];
const COPGEN_SERIES = [B01_COPGEN, B02_COPGEN, B03_COPGEN, B04_COPGEN, B05_COPGEN, B06_COPGEN, B07_COPGEN, B8A_COPGEN, B08_COPGEN, B09_COPGEN, B11_COPGEN, B12_COPGEN];

// ---------------- styles / layout ----------------
const ROW_COLORS = ["#0173b2", "#de8f05", "#029e73", "#d55e00", "#cc78bc", "#ca9161"];
const COL_LEFT = [16, 238, 462, 686];
const COL_RIGHT = [235, 458, 683, 907];
const BLOCK_TOP = [28, 494, 961];
const ROW_STEP = 71.6;
const PLOT_H = 60;
const AXIS_H = 12;
const FONT = '"DejaVu Sans", sans-serif';
const TEXT = "#262626";

function rgba(hex: string, a: number) {
  const n = parseInt(hex.slice(1), 16);
  return `rgba(${(n >> 16) & 255},${(n >> 8) & 255},${n & 255},${a})`;
}

type Panel = { band: number; row: number; col: number; block: number; cx: number; cy: number; cw: number; ch: number; padL: number; padR: number; padT: number; padB: number };

function buildPanels(): Panel[] {
  const out: Panel[] = [];
  for (let b = 0; b < 3; b++) {
    for (let c = 0; c < 4; c++) {
      for (let r = 0; r < 6; r++) {
        const top = Math.round(BLOCK_TOP[b] + r * ROW_STEP);
        const padL = c === 0 ? 16 : 14;
        const padR = 12;
        const padT = 12;
        const padB = r === 5 ? 20 : 2;
        const w = COL_RIGHT[c] - COL_LEFT[c];
        out.push({
          band: b * 4 + c, row: r, col: c, block: b,
          cx: COL_LEFT[c] - padL, cy: top - padT,
          cw: w + padL + padR, ch: PLOT_H + padT + padB,
          padL, padR, padT, padB,
        });
      }
    }
  }
  return out;
}

function makeChart(canvas: HTMLCanvasElement, p: Panel) {
  const color = ROW_COLORS[p.row];
  const gen = COPGEN_SERIES[p.band][p.row];
  const gt = GT_SERIES[p.band];
  const ymax = 1.05 * Math.max(...gen.map((d) => d[1]), ...gt.map((d) => d[1]));
  const ticks = X_TICKS[p.band];
  const dec = TICK_DECIMALS[p.band];
  const bottomRow = p.row === 5;
  const axisH = bottomRow ? AXIS_H : 0;

  const decor = {
    id: "decor",
    afterDraw(chart: any) {
      const ctx = chart.ctx as CanvasRenderingContext2D;
      const a = chart.chartArea;
      ctx.save();
      // frame
      ctx.strokeStyle = "#c4c4c4";
      ctx.lineWidth = 1;
      ctx.strokeRect(a.left + 0.5, a.top + 0.5, a.right - a.left - 1, a.bottom - a.top - 1);
      // title
      ctx.fillStyle = TEXT;
      ctx.font = `7.4px ${FONT}`;
      ctx.textAlign = "center";
      ctx.textBaseline = "alphabetic";
      ctx.fillText(CONDITIONS[p.row], (a.left + a.right) / 2, a.top - 1.6);
      // legend
      const bw = 70, bh = 20;
      const bx = a.right - 2.5 - bw;
      const by = a.top + 2.5;
      ctx.beginPath();
      if ((ctx as any).roundRect) (ctx as any).roundRect(bx, by, bw, bh, 2);
      else ctx.rect(bx, by, bw, bh);
      ctx.fillStyle = "rgba(255,255,255,0.85)";
      ctx.fill();
      ctx.strokeStyle = "#d4d4d4";
      ctx.lineWidth = 0.8;
      ctx.stroke();
      const rows = [by + 6, by + 13.6];
      const handleColors = ["rgba(30,30,30,0.9)", rgba(color, 0.8)];
      ctx.font = `5.8px ${FONT}`;
      ctx.textAlign = "left";
      ctx.textBaseline = "middle";
      for (let i = 0; i < 2; i++) {
        ctx.beginPath();
        ctx.strokeStyle = handleColors[i];
        ctx.lineWidth = 1.2;
        ctx.moveTo(bx + 4, rows[i]);
        ctx.lineTo(bx + 17, rows[i]);
        ctx.stroke();
        ctx.fillStyle = TEXT;
        ctx.fillText(SERIES_LABELS[i], bx + 20.5, rows[i] + 0.3);
      }
      // y label
      if (p.col === 0) {
        ctx.save();
        ctx.translate(10 - p.cx, (a.top + a.bottom) / 2);
        ctx.rotate(-Math.PI / 2);
        ctx.font = `6.2px ${FONT}`;
        ctx.textAlign = "center";
        ctx.textBaseline = "middle";
        ctx.fillStyle = TEXT;
        ctx.fillText(Y_LABEL, 0, 0);
        ctx.restore();
      }
      // x label
      if (bottomRow) {
        ctx.font = `5.9px ${FONT}`;
        ctx.textAlign = "center";
        ctx.textBaseline = "middle";
        ctx.fillStyle = TEXT;
        ctx.fillText(X_LABEL, (a.left + a.right) / 2, a.bottom + 13.4);
      }
      ctx.restore();
    },
  };

  return new Chart(canvas, {
    type: "line",
    data: {
      datasets: [
        {
          label: SERIES_LABELS[1],
          data: gen.map(([x, y]) => ({ x, y })),
          borderColor: rgba(color, 0.75),
          backgroundColor: rgba(color, 0.3),
          borderWidth: 0.9,
          fill: "origin",
          pointRadius: 0,
          cubicInterpolationMode: "monotone",
        },
        {
          label: SERIES_LABELS[0],
          data: gt.map(([x, y]) => ({ x, y })),
          borderColor: "rgba(20,20,20,0.9)",
          backgroundColor: "rgba(70,70,70,0.45)",
          borderWidth: 0.8,
          fill: "origin",
          pointRadius: 0,
          cubicInterpolationMode: "monotone",
        },
      ],
    },
    options: {
      animation: false,
      responsive: false,
      events: [],
      layout: { padding: { left: p.padL, right: p.padR, top: p.padT, bottom: p.padB - axisH }, autoPadding: false },
      plugins: {
        legend: { display: false },
        tooltip: { enabled: false },
        filler: { drawTime: "beforeDatasetsDraw" },
      },
      scales: {
        x: {
          type: "linear",
          min: X_MIN[p.band],
          max: X_MAX[p.band],
          afterFit: (s: any) => { s.height = axisH; },
          afterBuildTicks: (s: any) => { s.ticks = ticks.map((v) => ({ value: v })); },
          grid: { color: "#e8e8e8", lineWidth: 0.8, drawTicks: false },
          border: { display: false },
          ticks: {
            display: bottomRow,
            padding: 1.5,
            autoSkip: false,
            maxRotation: 0,
            minRotation: 0,
            color: TEXT,
            font: { family: FONT, size: 6 },
            callback: (v: any) => Number(v).toFixed(dec),
          },
        },
        y: { display: false, min: 0, max: ymax },
      },
    } as any,
    plugins: [decor],
  } as any);
}

export default function App() {
  const refs = useRef<(HTMLCanvasElement | null)[]>([]);
  const panels = buildPanels();

  useEffect(() => {
    const charts = panels.map((p, i) => makeChart(refs.current[i] as HTMLCanvasElement, p));
    return () => charts.forEach((c) => c.destroy());
  }, []);

  return (
    <div style={{ position: "absolute", left: 0, top: 0, width: 914, height: 1403, background: "#fff", overflow: "hidden" }}>
      {panels.map((p, i) => (
        <canvas
          key={i}
          ref={(el) => { refs.current[i] = el; }}
          width={p.cw}
          height={p.ch}
          style={{ position: "absolute", left: p.cx, top: p.cy, width: p.cw, height: p.ch }}
        />
      ))}
      {BANDS.map((name, i) => {
        const b = Math.floor(i / 4);
        const c = i % 4;
        return (
          <div
            key={"t" + i}
            style={{
              position: "absolute",
              left: COL_LEFT[c],
              width: COL_RIGHT[c] - COL_LEFT[c],
              top: BLOCK_TOP[b] - 24,
              height: 12,
              lineHeight: "12px",
              textAlign: "center",
              fontFamily: '"DejaVu Sans Mono", monospace',
              fontWeight: "bold",
              fontSize: 9.5,
              color: "#1a1a1a",
              whiteSpace: "nowrap",
            }}
          >
            {name}
          </div>
        );
      })}
      {[465, 933].map((y) => (
        <div key={"s" + y} style={{ position: "absolute", left: 4, width: 904, top: y, height: 2, background: "#555" }} />
      ))}
    </div>
  );
}
